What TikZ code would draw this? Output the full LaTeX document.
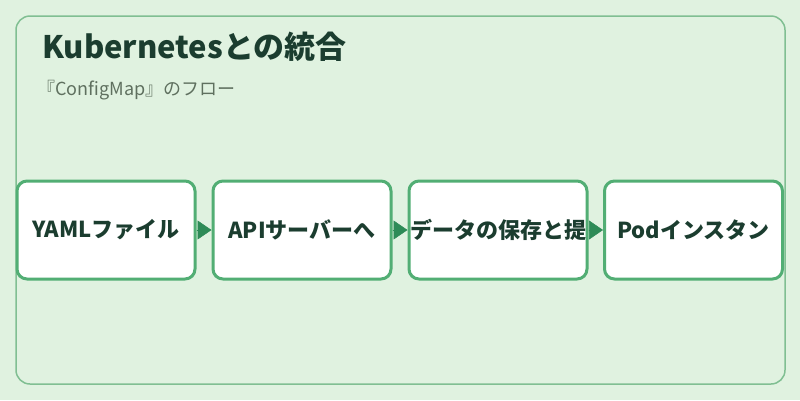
\documentclass[tikz,border=0pt]{standalone}
\usepackage{fontspec}
\newfontfamily\cjk{Noto Sans CJK JP}
\usetikzlibrary{arrows.meta,positioning}
\definecolor{bgcol}{HTML}{E0F2E0}
\definecolor{framecol}{HTML}{80BF92}
\definecolor{boxcol}{HTML}{52AE74}
\definecolor{arrcol}{HTML}{2E8B57}
\definecolor{txtcol}{HTML}{1B3D2F}
\definecolor{subcol}{HTML}{5F705F}
\tikzset{
  stepbox/.style={draw=boxcol, line width=3pt, fill=white, rounded corners=10pt,
    minimum width=178pt, minimum height=98pt, inner sep=0pt,
    text=txtcol, font=\cjk\bfseries\fontsize{22}{26}\selectfont},
  flow/.style={-{Triangle[length=14pt,width=19pt]}, draw=arrcol, fill=arrcol, line width=0.5pt}
}
\begin{document}
\begin{tikzpicture}[x=1pt,y=-1pt]
        % Background and frame
        \fill[bgcol] (0,0) rectangle (800,400);
        \useasboundingbox (0,0) rectangle (800,400);
        \draw[framecol, line width=1.5pt, rounded corners=14pt] (16,16) rectangle (785,384);

        % Title
        \node[anchor=base west, inner sep=0pt, text=txtcol, font=\cjk\bfseries\fontsize{31}{36}\selectfont] (title) at (42,58) {Kubernetesとの統合};
        \node[anchor=base west, inner sep=0pt, text=subcol, font=\cjk\fontsize{18}{21}\selectfont] (sub) at (37,95) {『ConfigMap』のフロー};

        % Steps
        \node[stepbox] (yaml) at (106,230) {YAMLファイル};
        \node[stepbox] (api) at (302,230) {APIサーバーへ};
        \node[stepbox] (store) at (498,230) {データの保存と提};
        \node[stepbox] (pod) at (693.5,230) {Podインスタン};

        % Arrows
        \foreach \a/\b in {yaml/api, api/store, store/pod}
          \draw[flow] (\a) -- (\b);
    \end{tikzpicture}
\end{document}
